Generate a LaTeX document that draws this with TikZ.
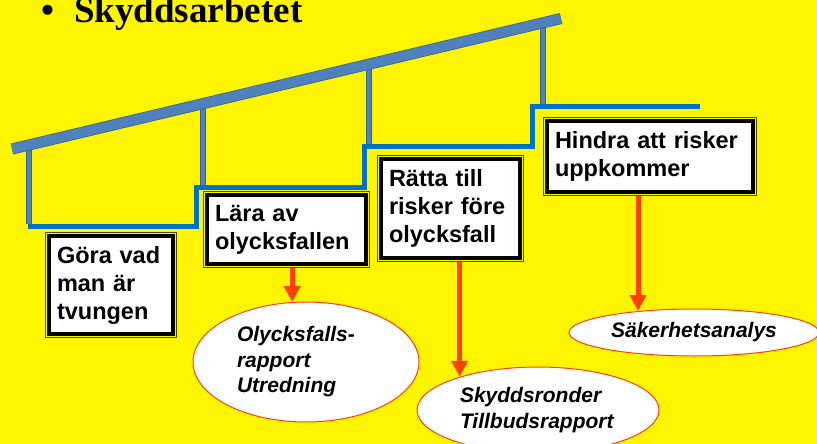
\documentclass[tikz,border=0pt]{standalone}
\usepackage{fontspec}
\setmainfont{Liberation Serif}
\newfontfamily\arialfont{Liberation Sans}
\usetikzlibrary{arrows.meta,shapes.geometric}

\definecolor{bgyellow}{HTML}{FFF500}
\definecolor{railblue}{HTML}{4F81BD}
\definecolor{railedge}{HTML}{3A6293}
\definecolor{stairblue}{HTML}{0070C0}
\definecolor{arrowred}{HTML}{FF4000}
\definecolor{frameolive}{HTML}{4A4600}

\tikzset{
  heading/.style={font=\bfseries\fontsize{37}{40}\selectfont, inner sep=0pt},
  stepbox/.style={rectangle, draw=black, line width=3.5pt, fill=white,
    preaction={draw=frameolive, line width=8pt},
    preaction={draw=bgyellow, line width=6pt},
    anchor=north west, outer sep=4pt, inner xsep=8pt, inner ysep=0pt,
    align=left, font=\arialfont\bfseries\fontsize{23.5}{28}\selectfont},
  bubble/.style={ellipse, draw=arrowred, line width=1pt, fill=white,
    inner sep=0pt, align=left,
    font=\arialfont\bfseries\itshape\fontsize{21}{25.5}\selectfont},
  rail/.style={draw=railedge, line width=0.8pt, double=railblue, double distance=9.5pt},
  post/.style={draw=railedge, line width=0.8pt, double=railblue, double distance=4.5pt},
  stair/.style={draw=stairblue, line width=5pt},
  pointer/.style={draw=arrowred, line width=5pt, -{Triangle[length=16pt,width=16pt]}},
}

\begin{document}
\begin{tikzpicture}[x=1pt, y=-1pt]
  % Background
  \fill[bgyellow] (0,0) rectangle (817,444);
  \useasboundingbox (0,0) rectangle (817,444);

  % Title
  \node[heading, anchor=base] (bullet) at (48,23) {•};
  \node[heading, anchor=base west] (title) at (74,23) {Skyddsarbetet};

  % Posts and rail
  \draw[post] (29,145) -- (29,224);
  \draw[post] (203,104) -- (203,186);
  \draw[post] (369,64) -- (369,147);
  \draw[post] (543,23) -- (543,106);
  \draw[rail] (12,149) -- (561,18.5);

  % Steps
  \draw[stair] (28,226) -- (196,226) -- (196,187) -- (364.5,187) -- (364.5,146.5)
    -- (532.5,146.5) -- (532.5,106.5) -- (700,106.5);

  % Boxes
  \node[stepbox, minimum height=98pt, text width=108pt] (gora) at (45,232) {Göra vad\\man är\\tvungen};
  \node[stepbox, minimum height=69pt, text width=143pt] (lara) at (203,191) {Lära av\\olycksfallen};
  \node[stepbox, minimum height=99pt, text width=123pt] (ratta) at (377,155) {Rätta till\\risker före\\olycksfall};
  \node[stepbox, minimum height=71pt, text width=190pt] (hindra) at (543,117) {Hindra att risker\\uppkommer};

  % Ellipses
  \node[bubble, minimum width=226pt, minimum height=120pt, text width=138pt] (rapport) at (306,362) {Olycksfalls-\\rapport\\Utredning};
  \node[bubble, minimum width=242pt, minimum height=86pt, text width=156pt] (ronder) at (538,410) {Skyddsronder\\Tillbudsrapport};
  \node[bubble, minimum width=250pt, minimum height=47pt] (analys) at (694,332.5) {Säkerhetsanalys};

  % Arrows
  \draw[pointer] (lara.south -| rapport.103) -- (rapport.103);
  \draw[pointer] (ratta.south -| ronder.157) -- (ronder.157);
  \draw[pointer] (hindra.south -| analys.159) -- (analys.159);
\end{tikzpicture}
\end{document}
